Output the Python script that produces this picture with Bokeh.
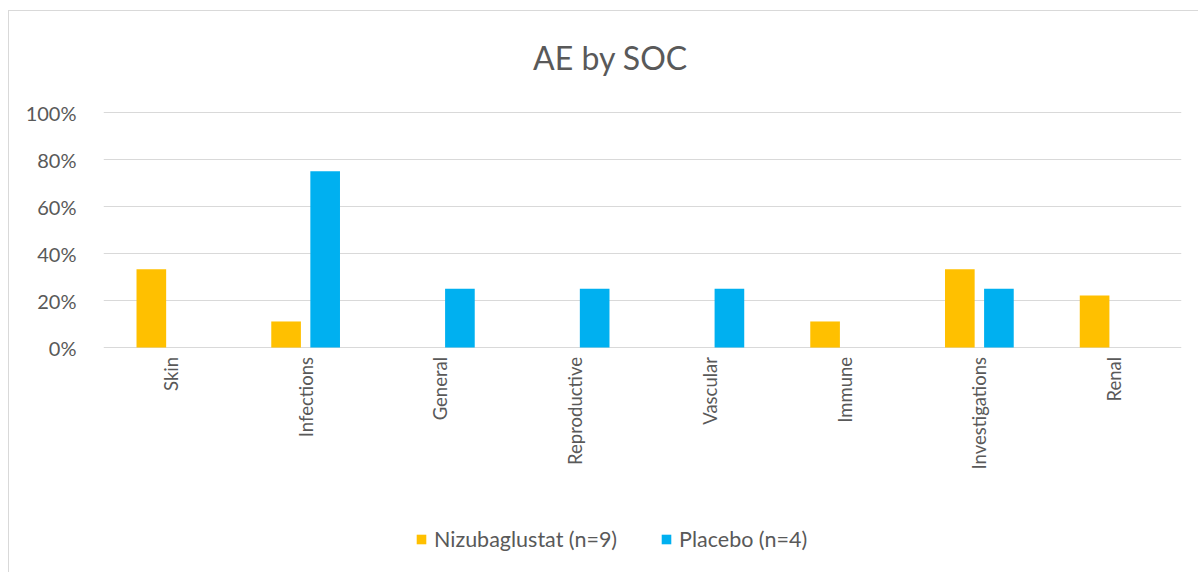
import math
from bokeh.plotting import figure
from bokeh.models import (FactorRange, Range1d, NumeralTickFormatter, Legend, LegendItem, Label,
                          ColumnDataSource)
from bokeh.core.properties import value
from bokeh.transform import dodge
from bokeh.embed import file_html
from bokeh.resources import INLINE

categories = ["Skin", "Infections", "General", "Reproductive", "Vascular", "Immune", "Investigations", "Renal"]
nizubaglustat = [0.333, 0.111, 0.0, 0.0, 0.0, 0.111, 0.333, 0.222]
placebo = [0.0, 0.75, 0.25, 0.25, 0.25, 0.0, 0.25, 0.0]
series_names = ["Nizubaglustat (n=9)", "Placebo (n=4)"]
y_ticks = [0, 0.2, 0.4, 0.6, 0.8, 1.0]
title_text = "AE by SOC"

FONT = "Lato"
GRAY = "#595959"

src = ColumnDataSource(dict(cat=categories, niz=nizubaglustat, pla=placebo,
                            lab_y=[-0.04] * len(categories)))

# the frame spans the whole chart area so title, category labels and legend sit inside it
p = figure(x_range=FactorRange(factors=categories, range_padding=0),
           y_range=Range1d(-0.906, 1.4298),
           frame_width=1078, frame_height=549, output_backend="svg", toolbar_location=None,
           min_border_left=94, min_border_right=17, min_border_top=0, min_border_bottom=12,
           outline_line_color=None,
           styles={"margin-left": "8px", "margin-top": "10px",
                   "border-left": "1px solid #d9d9d9", "border-top": "1px solid #d9d9d9"})

r1 = p.vbar(x=dodge("cat", -0.145, range=p.x_range), top="niz", width=0.22, source=src,
            fill_color="#FFC000", line_color=None)
r2 = p.vbar(x=dodge("cat", 0.145, range=p.x_range), top="pla", width=0.22, source=src,
            fill_color="#00B0F0", line_color=None)

p.text(x="cat", y="lab_y", text="cat", source=src, angle=math.pi / 2,
       text_align="right", text_baseline="middle", text_font=value(FONT),
       text_font_size="18.5px", text_color=GRAY)

p.add_layout(Label(x=3.7625, y=1.234, text=title_text, text_align="center",
                   text_baseline="middle", text_font=FONT, text_font_size="32px",
                   text_color=GRAY))

p.yaxis.ticker = y_ticks
p.yaxis.formatter = NumeralTickFormatter(format="0%")
p.yaxis.axis_line_color = None
p.yaxis.major_tick_line_color = None
p.yaxis.minor_tick_line_color = None
p.yaxis.major_label_text_font = FONT
p.yaxis.major_label_text_font_size = "20px"
p.yaxis.major_label_text_color = GRAY
p.yaxis.major_label_standoff = 21

p.xaxis.visible = False
p.xgrid.grid_line_color = None
p.ygrid.grid_line_color = "#d9d9d9"
p.ygrid.ticker = y_ticks

legend = Legend(items=[LegendItem(label=series_names[0], renderers=[r1]),
                       LegendItem(label=series_names[1], renderers=[r2])],
                orientation="horizontal", location=(312, 8),
                label_text_font=FONT, label_text_font_size="21.5px", label_text_color=GRAY,
                glyph_width=12, glyph_height=12, label_standoff=7, spacing=43,
                border_line_color=None, background_fill_alpha=0, margin=0, padding=0)
p.add_layout(legend, "center")

open("out.html", "w").write(file_html(p, INLINE))
